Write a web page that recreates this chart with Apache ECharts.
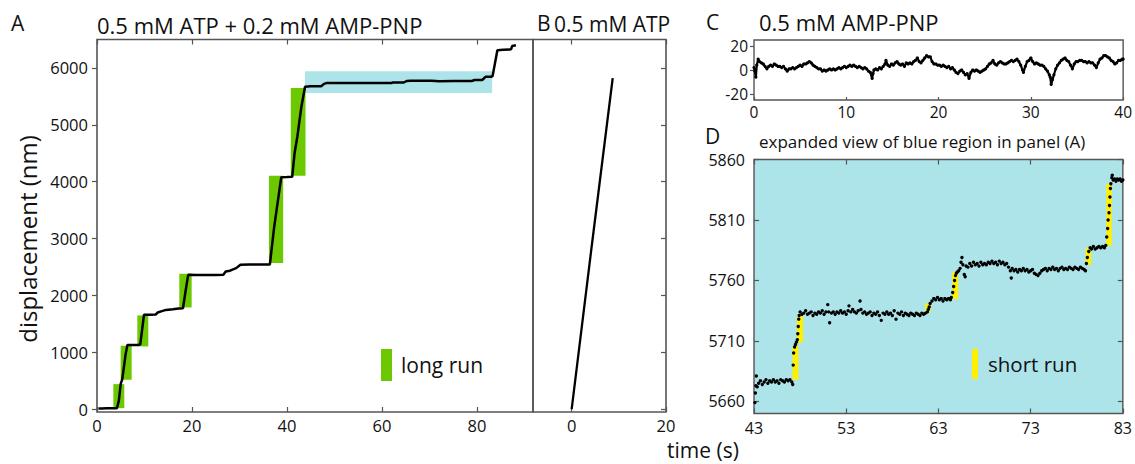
<!DOCTYPE html>
<html>
<head>
<meta charset="utf-8">
<script src="https://cdn.jsdelivr.net/npm/echarts@6/dist/echarts.min.js"></script>
<style>html,body{margin:0;padding:0;background:#fff}#c{width:1135px;height:464px}</style>
</head>
<body>
<div id="c"></div>
<script>
// ---------- Panel A: 0.5 mM ATP + 0.2 mM AMP-PNP ----------
const timeA = [0.3,1,2,3,4.2,4.6,5.0,5.3,5.6,6.0,6.4,7.5,8.5,9.1,9.5,9.9,11,12.4,12.8,13.5,14.5,16,17.2,18.1,18.6,19.2,21,23,25,26.6,27.1,28,29.3,30.2,32,34,36.4,37.3,38.8,40,41.1,41.6,42.2,43.0,43.8,45,47.2,47.8,48.3,55,62,62.2,64.6,65.2,66,70.5,72,75,78.9,79.5,81.1,81.8,83.0,83.3,84.3,85.5,86.9,87.2,87.4,88.2];
const dispA = [10,12,14,15,15,150,450,520,700,950,1130,1130,1130,1135,1400,1660,1660,1665,1700,1720,1745,1755,1770,1775,2050,2362,2360,2360,2358,2362,2420,2435,2480,2540,2545,2542,2545,3200,4080,4082,4085,4500,4800,5300,5668,5676,5678,5720,5733,5734,5733,5744,5744,5770,5773,5773,5768,5770,5771,5787,5788,5843,5843,5860,6310,6318,6322,6330,6385,6398];
// long-run boxes: [t0, t1, d0, d1]
const longRuns = [[3.44,5.75,18,440],[4.98,7.30,516,1114],[8.49,10.8,1103,1648],[17.33,19.93,1789,2381],[36.2,39.2,2569,4106],[40.8,43.9,4106,5648]];
const blueRegion = [[43.8,83.2,5560,5940]];
const ticksA_y = [0,1000,2000,3000,4000,5000,6000];
const ticksA_x = [0,20,40,60,80];

// ---------- Panel B: 0.5 mM ATP ----------
const timeB = [0,4.3,8.7];
const dispB = [0,2900,5820];
const ticksB_x = [0,20];

// ---------- Panel C: 0.5 mM AMP-PNP ----------
const traceC = [[0.0,2],[0.1,-1],[0.2,-6],[0.3,4],[0.45,9],[0.6,7],[0.8,6],[1.0,5],[1.2,3],[1.4,1],[1.6,3],[1.8,4],[2.0,3],[2.2,5],[2.4,4],[2.6,3],[2.8,3],[3.0,2],[3.2,3],[3.4,1],[3.6,-1],[3.8,1],[4.0,1],[4.2,2],[4.4,1],[4.6,2],[4.8,3],[5.0,4],[5.2,3],[5.4,5],[5.6,5],[5.8,6],[6.0,7],[6.2,6],[6.4,4],[6.6,3],[6.8,2],[7.0,1],[7.2,1],[7.4,-1],[7.6,0],[7.8,-1],[8.0,0],[8.2,1],[8.4,0],[8.6,1],[8.8,0],[9.0,1],[9.2,2],[9.4,1],[9.6,2],[9.8,3],[10.0,2],[10.2,3],[10.4,4],[10.6,3],[10.8,4],[11.0,3],[11.2,2],[11.4,3],[11.6,2],[11.8,1],[12.0,2],[12.2,1],[12.4,-1],[12.6,-2],[12.8,-7],[12.9,-3],[13.0,0],[13.2,1],[13.4,0],[13.6,2],[13.8,1],[14.0,3],[14.2,5],[14.3,8],[14.5,4],[14.7,3],[14.9,5],[15.1,4],[15.3,6],[15.5,7],[15.7,5],[15.9,4],[16.1,5],[16.3,3],[16.5,6],[16.7,5],[16.9,6],[17.1,5],[17.3,7],[17.5,8],[17.7,10],[17.9,7],[18.1,6],[18.3,8],[18.5,10],[18.7,12],[18.9,11],[19.1,11],[19.3,7],[19.5,5],[19.7,5],[19.9,4],[20.1,4],[20.3,3],[20.5,4],[20.7,3],[20.9,2],[21.1,3],[21.3,1],[21.5,2],[21.7,0],[21.9,-2],[22.1,-3],[22.3,-1],[22.5,0],[22.7,-2],[22.9,-4],[23.1,-3],[23.3,-7],[23.5,-2],[23.7,0],[23.9,-1],[24.1,0],[24.3,-1],[24.5,-2],[24.7,-1],[24.9,0],[25.1,1],[25.3,3],[25.5,5],[25.7,6],[25.9,8],[26.1,5],[26.3,4],[26.5,6],[26.7,7],[26.9,6],[27.1,5],[27.3,5],[27.5,6],[27.7,7],[27.9,8],[28.1,7],[28.3,8],[28.5,9],[28.7,7],[28.9,4],[29.1,0],[29.2,-2],[29.4,3],[29.6,7],[29.8,8],[30.0,10],[30.2,7],[30.4,5],[30.6,6],[30.8,5],[31.0,4],[31.2,4],[31.4,3],[31.6,1],[31.8,-1],[32.0,-4],[32.1,-6],[32.2,-12],[32.35,-8],[32.5,-4],[32.7,1],[32.9,4],[33.1,6],[33.3,8],[33.5,9],[33.7,10],[33.9,8],[34.1,7],[34.3,4],[34.5,1],[34.7,5],[34.9,7],[35.1,7],[35.3,8],[35.5,8],[35.7,7],[35.9,7],[36.1,6],[36.3,7],[36.5,6],[36.7,6],[36.9,4],[37.1,2],[37.3,6],[37.5,9],[37.7,10],[37.9,12],[38.1,12],[38.3,11],[38.5,10],[38.7,8],[38.9,7],[39.1,5],[39.3,6],[39.5,8],[39.7,8],[39.9,9],[40.0,9]];
const ticksC_x = [0,10,20,30,40];
const ticksC_y = [-20,0,20];

// ---------- Panel D: expanded view of blue region ----------
const traceD = [[43.1,5659],[43.15,5667],[43.2,5673],[43.25,5681],[43.35,5672],[43.5,5675],[43.7,5677],[43.9,5674],[44.1,5676],[44.3,5678],[44.5,5675],[44.7,5677],[44.9,5676],[45.1,5678],[45.3,5676],[45.5,5677],[45.7,5675],[45.9,5678],[46.1,5677],[46.3,5676],[46.5,5678],[46.7,5677],[46.9,5678],[47.1,5676],[47.2,5674],
[47.25,5690],[47.3,5700],[47.4,5705],[47.5,5707],[47.6,5709],[47.7,5711],[47.75,5716],[47.8,5722],[47.85,5728],[47.9,5731],
[48.0,5734],[48.2,5732],[48.4,5733],[48.6,5735],[48.8,5732],[49.0,5733],[49.2,5734],[49.4,5731],[49.6,5733],[49.8,5732],[50.0,5734],[50.2,5733],[50.4,5735],[50.6,5732],[50.8,5734],[51.0,5740],[51.1,5734],[51.2,5725],[51.4,5733],[51.6,5734],[51.8,5732],[52.0,5734],[52.2,5733],[52.4,5735],[52.6,5733],[52.8,5734],[53.0,5732],[53.2,5735],[53.3,5739],[53.5,5734],[53.7,5736],[53.9,5734],[54.1,5733],[54.3,5735],[54.5,5743],[54.6,5736],[54.8,5733],[55.0,5734],[55.2,5732],[55.4,5733],[55.6,5734],[55.8,5731],[56.0,5733],[56.2,5732],[56.4,5734],[56.6,5731],[56.8,5727],[57.0,5733],[57.2,5732],[57.4,5734],[57.6,5732],[57.8,5733],[58.0,5731],[58.2,5735],[58.4,5728],[58.6,5733],[58.8,5732],[59.0,5734],[59.2,5731],[59.4,5733],[59.6,5732],[59.8,5731],[60.0,5733],[60.2,5732],[60.4,5731],[60.6,5733],[60.8,5732],[61.0,5731],[61.2,5733],[61.4,5732],[61.6,5733],[61.8,5734],
[61.9,5736],[62.0,5738],[62.1,5741],
[62.3,5743],[62.5,5745],[62.7,5744],[62.9,5746],[63.1,5744],[63.3,5745],[63.5,5743],[63.7,5745],[63.9,5744],[64.1,5745],[64.3,5744],[64.4,5746],
[64.55,5750],[64.65,5755],[64.75,5760],[64.85,5764],[64.95,5766],[65.05,5767],
[65.2,5768],[65.35,5770],[65.45,5775],[65.55,5779],[65.65,5773],[65.8,5765],[65.9,5763],[66.0,5772],
[66.2,5771],[66.4,5774],[66.6,5772],[66.8,5775],[67.0,5773],[67.2,5774],[67.4,5772],[67.6,5775],[67.8,5773],[68.0,5774],[68.2,5773],[68.4,5775],[68.6,5774],[68.8,5776],[69.0,5774],[69.2,5775],[69.4,5773],[69.6,5776],[69.8,5774],[70.0,5775],[70.2,5773],[70.4,5774],[70.6,5771],[70.8,5768],[70.9,5762],[71.0,5770],[71.2,5768],[71.4,5769],[71.6,5767],[71.8,5769],[72.0,5768],[72.2,5770],[72.4,5768],[72.6,5769],[72.8,5767],[73.0,5768],[73.2,5769],[73.4,5766],[73.6,5765],[73.8,5764],[74.0,5766],[74.2,5768],[74.4,5769],[74.6,5770],[74.8,5768],[75.0,5770],[75.2,5769],[75.4,5771],[75.6,5769],[75.8,5770],[76.0,5768],[76.2,5770],[76.4,5771],[76.6,5769],[76.8,5770],[77.0,5769],[77.2,5771],[77.4,5770],[77.6,5769],[77.8,5771],[78.0,5770],[78.2,5769],[78.4,5771],[78.6,5770],[78.8,5769],[78.95,5768],
[79.05,5774],[79.15,5779],[79.3,5784],[79.45,5787],
[79.6,5786],[79.8,5788],[80.0,5786],[80.2,5787],[80.4,5788],[80.6,5787],[80.8,5788],[81.0,5787],[81.15,5789],
[81.25,5796],[81.35,5803],[81.4,5810],[81.5,5816],[81.55,5822],[81.6,5829],[81.65,5836],[81.7,5840],
[81.8,5845],[81.85,5847],[81.95,5843],[82.1,5844],[82.25,5842],[82.4,5844],[82.55,5843],[82.7,5844],[82.85,5842],[83.0,5843]];
// short-run boxes: [t0, t1, d0, d1]
const shortRuns = [[47.18,47.82,5678,5706],[47.64,48.32,5708.7,5730.7],[61.57,62.18,5734,5741],[64.5,65.14,5744.7,5767],[78.96,79.57,5772.8,5787],[81.2,81.8,5788.75,5840]];
const ticksD_x = [43,53,63,73,83];
const ticksD_y = [5660,5710,5760,5810,5860];

const FONT = 'Open Sans';
const GREEN = '#6cc800', YELLOW = '#fff000', BLUE = '#ade4ea';
const FRAME = '#555';

function rectItem(color) {
  return function (params, api) {
    const p0 = api.coord([api.value(0), api.value(3)]);
    const p1 = api.coord([api.value(1), api.value(2)]);
    return { type: 'rect', shape: { x: p0[0], y: p0[1], width: p1[0] - p0[0], height: p1[1] - p0[1] }, style: { fill: color } };
  };
}
function zip(a, b) { return a.map((v, i) => [v, b[i]]); }
const lab = (size, margin, vals) => ({ fontFamily: FONT, fontSize: size, color: '#111', margin: margin, customValues: vals, formatter: v => String(v) });
const tick = (inside, len, vals) => ({ show: true, inside: inside, length: len, lineStyle: { color: FRAME, width: 1.2 }, customValues: vals });
const noLine = { show: false, onZero: false };

const chart = echarts.init(document.getElementById('c'), null, { renderer: 'svg' });
chart.setOption({
  animation: false,
  backgroundColor: '#fff',
  grid: [
    { left: 97, top: 39.5, width: 436, height: 372.5, show: true, borderColor: FRAME, borderWidth: 1.6, backgroundColor: 'transparent' },
    { left: 533, top: 39.5, width: 133, height: 372.5, show: true, borderColor: FRAME, borderWidth: 1.6, backgroundColor: 'transparent' },
    { left: 754, top: 40, width: 372, height: 60, show: true, borderColor: FRAME, borderWidth: 1.4, backgroundColor: 'transparent' },
    { left: 754, top: 159.5, width: 373, height: 254, show: true, borderColor: FRAME, borderWidth: 1.4, backgroundColor: BLUE }
  ],
  xAxis: [
    { gridIndex: 0, type: 'value', min: 0, max: 91.8, axisLine: noLine, splitLine: { show: false }, axisTick: tick(true, 5, ticksA_x), axisLabel: lab(16.5, 5, ticksA_x) },
    { gridIndex: 0, type: 'value', position: 'top', min: 0, max: 91.8, axisLine: noLine, splitLine: { show: false }, axisTick: tick(true, 5, ticksA_x), axisLabel: { show: false } },
    { gridIndex: 1, type: 'value', min: -8.2, max: 20, axisLine: noLine, splitLine: { show: false }, axisTick: tick(true, 5, ticksB_x), axisLabel: lab(16.5, 5, ticksB_x) },
    { gridIndex: 1, type: 'value', position: 'top', min: -8.2, max: 20, axisLine: noLine, splitLine: { show: false }, axisTick: tick(true, 5, ticksB_x), axisLabel: { show: false } },
    { gridIndex: 2, type: 'value', min: 0, max: 40, axisLine: noLine, splitLine: { show: false }, axisTick: tick(true, 3, ticksC_x), axisLabel: lab(15.5, 4, ticksC_x) },
    { gridIndex: 3, type: 'value', min: 43, max: 83, axisLine: noLine, splitLine: { show: false }, axisTick: tick(true, 5, ticksD_x), axisLabel: lab(16, 6, ticksD_x) },
    { gridIndex: 3, type: 'value', position: 'top', min: 43, max: 83, axisLine: noLine, splitLine: { show: false }, axisTick: tick(true, 5, ticksD_x), axisLabel: { show: false } }
  ],
  yAxis: [
    { gridIndex: 0, type: 'value', min: -50, max: 6500, axisLine: noLine, splitLine: { show: false }, axisTick: tick(false, 5, ticksA_y), axisLabel: lab(16.5, 9, ticksA_y) },
    { gridIndex: 1, type: 'value', position: 'right', min: -50, max: 6500, axisLine: noLine, splitLine: { show: false }, axisTick: tick(true, 5, ticksA_y), axisLabel: { show: false } },
    { gridIndex: 2, type: 'value', min: -25, max: 25, axisLine: noLine, splitLine: { show: false }, axisTick: tick(false, 4, ticksC_y), axisLabel: lab(15.5, 6, ticksC_y) },
    { gridIndex: 3, type: 'value', min: 5650, max: 5860, axisLine: noLine, splitLine: { show: false }, axisTick: tick(true, 5, ticksD_y), axisLabel: lab(16, 9, ticksD_y) },
    { gridIndex: 3, type: 'value', position: 'right', min: 5650, max: 5860, axisLine: noLine, splitLine: { show: false }, axisTick: tick(true, 5, ticksD_y), axisLabel: { show: false } }
  ],
  legend: [
    { data: ['long run'], left: 381, top: 349, orient: 'vertical', icon: 'rect', itemWidth: 11, itemHeight: 32, itemGap: 0, padding: 0, selectedMode: false,
      textStyle: { fontFamily: FONT, fontSize: 21, color: '#111', padding: [0, 0, 0, 4] } },
    { data: ['short run'], left: 972, top: 349, orient: 'vertical', icon: 'rect', itemWidth: 6, itemHeight: 30, itemGap: 0, padding: 0, selectedMode: false,
      textStyle: { fontFamily: FONT, fontSize: 20.5, color: '#111', padding: [0, 0, 0, 5] } }
  ],
  series: [
    { name: 'blue region', type: 'custom', xAxisIndex: 0, yAxisIndex: 0, renderItem: rectItem(BLUE), data: blueRegion, z: 1, silent: true },
    { name: 'long run', type: 'custom', xAxisIndex: 0, yAxisIndex: 0, renderItem: rectItem(GREEN), itemStyle: { color: GREEN }, data: longRuns, z: 1, silent: true },
    { name: 'A trace', type: 'line', xAxisIndex: 0, yAxisIndex: 0, data: zip(timeA, dispA), showSymbol: false, lineStyle: { color: '#000', width: 2.5 }, z: 3 },
    { name: 'B trace', type: 'line', xAxisIndex: 2, yAxisIndex: 1, data: zip(timeB, dispB), showSymbol: false, lineStyle: { color: '#000', width: 2.3 }, z: 3 },
    { name: 'C trace', type: 'line', xAxisIndex: 4, yAxisIndex: 2, data: traceC, symbol: 'circle', symbolSize: 3.2, showSymbol: true, itemStyle: { color: '#000' }, lineStyle: { color: '#000', width: 2.2 }, z: 3 },
    { name: 'short run', type: 'custom', xAxisIndex: 5, yAxisIndex: 3, renderItem: rectItem(YELLOW), itemStyle: { color: YELLOW }, data: shortRuns, z: 1, silent: true },
    { name: 'D trace', type: 'scatter', xAxisIndex: 5, yAxisIndex: 3, data: traceD, symbol: 'circle', symbolSize: 3.4, itemStyle: { color: '#000', opacity: 1 }, z: 3 }
  ],
  graphic: [
    { type: 'text', x: 11, y: 23, style: { text: 'A', fontFamily: FONT, fontSize: 21, fill: '#111', align: 'left', verticalAlign: 'middle' } },
    { type: 'text', x: 97, y: 25, style: { text: '0.5 mM ATP + 0.2 mM AMP-PNP', fontFamily: FONT, fontSize: 22, fill: '#111', align: 'left', verticalAlign: 'middle' } },
    { type: 'text', x: 537, y: 23, style: { text: 'B', fontFamily: FONT, fontSize: 21, fill: '#111', align: 'left', verticalAlign: 'middle' } },
    { type: 'text', x: 554, y: 24, style: { text: '0.5 mM ATP', fontFamily: FONT, fontSize: 21, fill: '#111', align: 'left', verticalAlign: 'middle' } },
    { type: 'text', x: 706, y: 22, style: { text: 'C', fontFamily: FONT, fontSize: 21, fill: '#111', align: 'left', verticalAlign: 'middle' } },
    { type: 'text', x: 759, y: 22, style: { text: '0.5 mM AMP-PNP', fontFamily: FONT, fontSize: 22, fill: '#111', align: 'left', verticalAlign: 'middle' } },
    { type: 'text', x: 705, y: 136, style: { text: 'D', fontFamily: FONT, fontSize: 21, fill: '#111', align: 'left', verticalAlign: 'middle' } },
    { type: 'text', x: 759, y: 141, style: { text: 'expanded view of blue region in panel (A)', fontFamily: FONT, fontSize: 17, fill: '#111', align: 'left', verticalAlign: 'middle' } },
    { type: 'text', x: 27, y: 239, rotation: Math.PI / 2, style: { text: 'displacement (nm)', fontFamily: FONT, fontSize: 24, fill: '#111', align: 'center', verticalAlign: 'middle' } },
    { type: 'text', x: 703, y: 450, style: { text: 'time (s)', fontFamily: FONT, fontSize: 21, fill: '#111', align: 'center', verticalAlign: 'middle' } }
  ]
});
</script>
</body>
</html>
